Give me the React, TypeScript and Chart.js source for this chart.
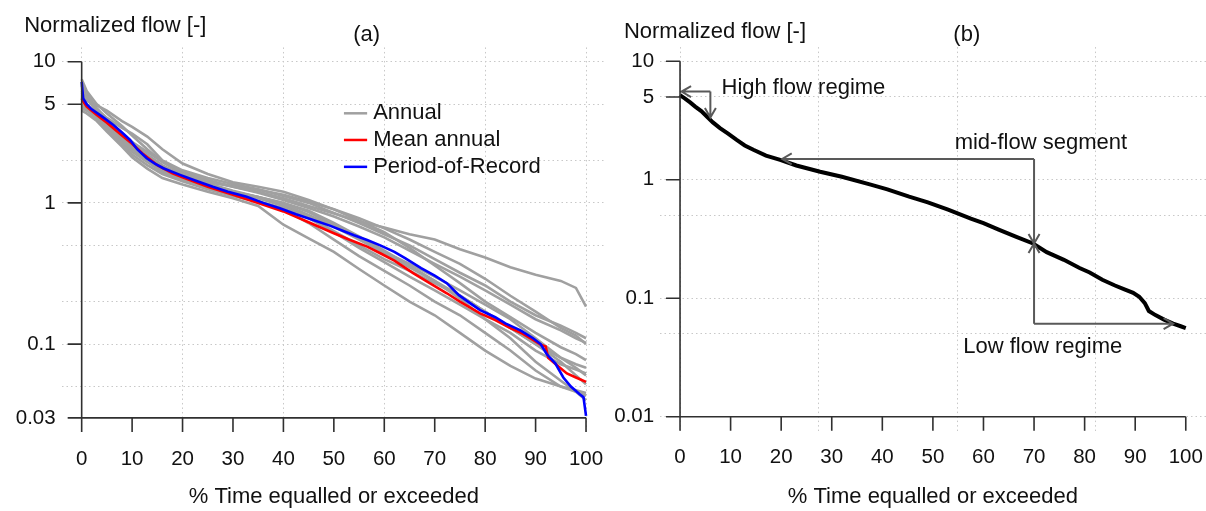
import React, { useEffect, useRef } from "react";
import { Chart, registerables } from "chart.js";

Chart.register(...registerables);

const FONT = '"Liberation Sans", Arial, Helvetica, sans-serif';

// ---------------- Panel (a) ----------------
const xTickValuesA = [0, 10, 20, 30, 40, 50, 60, 70, 80, 90, 100];
const yTickValuesA = [10, 5, 1, 0.1, 0.03];
const yTickLabelsA = ["10", "5", "1", "0.1", "0.03"];
const xGridA = [0, 20, 40, 60, 80, 100];
const yGridA = [10, 5, 2, 1, 0.5, 0.2, 0.1, 0.05];

const blueX = [0, 0.3, 1, 2, 4, 6.3, 8, 9.6, 11, 12.9, 14.5, 16.2, 19.5, 22.5, 26, 29, 32.7, 36, 39.3, 42.5, 45.9, 49.2, 52, 54, 56.6, 59.2, 62, 64.2, 67.3, 70, 72.4, 74.8, 77, 79, 82, 84, 87, 89.5, 91, 92.2, 93.9, 95.5, 97, 98.8, 99.5, 100];
const blueY = [7.2, 5.5, 5.0, 4.6, 4.1, 3.56, 3.15, 2.79, 2.4, 2.07, 1.9, 1.76, 1.58, 1.44, 1.3, 1.2, 1.106, 1.0, 0.915, 0.83, 0.757, 0.69, 0.63, 0.59, 0.546, 0.5, 0.45, 0.405, 0.345, 0.305, 0.27, 0.222, 0.195, 0.174, 0.155, 0.14, 0.125, 0.11, 0.1, 0.085, 0.073, 0.058, 0.05, 0.044, 0.042, 0.031];

const redX = [0, 0.5, 1, 3, 5, 8, 10, 12, 15, 18, 20, 25, 30, 35, 40, 45, 50, 53, 56.6, 59.2, 62, 65.8, 69, 72.4, 75, 79, 82, 85, 87.5, 89.5, 91, 92, 92.5, 94, 96.2, 98, 100];
const redY = [5.5, 5.1, 4.8, 4.2, 3.7, 3.0, 2.62, 2.25, 1.85, 1.62, 1.52, 1.3, 1.14, 1.0, 0.87, 0.73, 0.61, 0.55, 0.49, 0.44, 0.39, 0.317, 0.27, 0.229, 0.2, 0.165, 0.148, 0.13, 0.118, 0.107, 0.099, 0.096, 0.08, 0.072, 0.062, 0.058, 0.054];

const grayX = [0, 1, 3, 5, 8, 10, 13, 16, 20, 25, 30, 35, 40, 45, 50, 55, 60, 65, 70, 75, 80, 85, 90, 95, 98, 100];
const annual1 = [4.7, 4.5, 4.1, 3.6, 2.9, 2.5, 2.1, 1.8, 1.6, 1.42, 1.3, 1.2, 1.08, 0.95, 0.84, 0.74, 0.67, 0.6, 0.55, 0.47, 0.41, 0.35, 0.31, 0.28, 0.25, 0.184];
const annual2 = [6.0, 5.4, 4.6, 4.0, 3.4, 3.1, 2.6, 2.0, 1.7, 1.5, 1.36, 1.25, 1.12, 1.0, 0.85, 0.72, 0.6, 0.5, 0.4, 0.32, 0.26, 0.2, 0.16, 0.135, 0.12, 0.11];
const annual3 = [7.5, 6.2, 5.0, 4.3, 3.5, 3.0, 2.4, 1.95, 1.65, 1.45, 1.3, 1.18, 1.05, 0.92, 0.8, 0.68, 0.57, 0.46, 0.37, 0.3, 0.24, 0.19, 0.15, 0.125, 0.11, 0.102];
const annual4 = [5.8, 5.3, 4.9, 4.5, 3.8, 3.45, 2.95, 2.4, 1.9, 1.6, 1.4, 1.3, 1.2, 1.05, 0.9, 0.75, 0.62, 0.48, 0.36, 0.27, 0.2, 0.155, 0.12, 0.095, 0.085, 0.077];
const annual5 = [6.5, 5.6, 4.5, 3.7, 2.9, 2.5, 2.1, 1.8, 1.55, 1.35, 1.2, 1.1, 0.98, 0.82, 0.68, 0.55, 0.44, 0.35, 0.28, 0.22, 0.17, 0.13, 0.1, 0.08, 0.072, 0.068];
const annual6 = [5.0, 4.6, 3.9, 3.3, 2.6, 2.2, 1.85, 1.6, 1.42, 1.25, 1.12, 1.02, 0.92, 0.78, 0.62, 0.48, 0.38, 0.3, 0.24, 0.19, 0.15, 0.12, 0.09, 0.072, 0.066, 0.062];
const annual7 = [4.5, 4.3, 3.8, 3.2, 2.5, 2.1, 1.75, 1.5, 1.35, 1.2, 1.08, 0.95, 0.7, 0.56, 0.45, 0.34, 0.26, 0.2, 0.16, 0.12, 0.09, 0.07, 0.057, 0.05, 0.047, 0.045];
const annual8 = [6.8, 5.9, 4.7, 3.9, 3.0, 2.6, 2.15, 1.75, 1.45, 1.28, 1.15, 1.03, 0.9, 0.72, 0.55, 0.42, 0.33, 0.26, 0.2, 0.16, 0.12, 0.09, 0.065, 0.05, 0.046, 0.043];
const annual9 = [5.3, 4.9, 4.3, 3.7, 3.0, 2.7, 2.3, 1.95, 1.6, 1.38, 1.22, 1.1, 1.0, 0.88, 0.72, 0.58, 0.46, 0.36, 0.28, 0.21, 0.15, 0.11, 0.075, 0.055, 0.046, 0.04];
const annual10 = [6.2, 5.5, 4.4, 3.5, 2.7, 2.3, 1.95, 1.65, 1.45, 1.3, 1.18, 1.08, 0.95, 0.8, 0.63, 0.5, 0.4, 0.33, 0.27, 0.22, 0.17, 0.13, 0.1, 0.075, 0.06, 0.052];
const annual11 = [4.9, 4.6, 4.2, 3.8, 3.1, 2.7, 2.2, 1.85, 1.55, 1.4, 1.32, 1.24, 1.14, 1.02, 0.9, 0.78, 0.66, 0.55, 0.45, 0.37, 0.29, 0.22, 0.17, 0.13, 0.115, 0.1];
const annual12 = [5.6, 5.0, 4.0, 3.4, 2.8, 2.4, 2.0, 1.7, 1.5, 1.33, 1.2, 1.1, 1.0, 0.86, 0.7, 0.56, 0.45, 0.37, 0.3, 0.24, 0.19, 0.15, 0.11, 0.08, 0.068, 0.06];
const annualSeries = [annual1, annual2, annual3, annual4, annual5, annual6, annual7, annual8, annual9, annual10, annual11, annual12];

const legendLabelsA = ["Annual", "Mean annual", "Period-of-Record"];
const legendColorsA = ["#a0a0a0", "#ff0000", "#0000ff"];

// ---------------- Panel (b) ----------------
const xTickValuesB = [0, 10, 20, 30, 40, 50, 60, 70, 80, 90, 100];
const yTickValuesB = [10, 5, 1, 0.1, 0.01];
const yTickLabelsB = ["10", "5", "1", "0.1", "0.01"];
const xGridB = [0, 27.4, 54.8, 82.2];
const yGridB = [10, 5, 1, 0.5, 0.1, 0.05, 0.01];

const porX = [0, 0.5, 1, 2, 3, 4.2, 5.3, 6.5, 7.9, 9.5, 11.2, 12.8, 14.5, 17, 19.8, 23, 27.7, 32, 37.7, 41, 45.3, 49, 53, 57.5, 60, 63, 66.5, 69.8, 72.5, 75.9, 79, 81, 83.5, 86, 88, 89.6, 90.8, 91.9, 92.7, 94, 95.7, 97.5, 99, 100];
const porY = [5.2, 5.0, 4.85, 4.5, 4.15, 3.8, 3.42, 3.05, 2.73, 2.45, 2.17, 1.95, 1.79, 1.6, 1.47, 1.32, 1.17, 1.06, 0.91, 0.83, 0.72, 0.645, 0.56, 0.47, 0.43, 0.38, 0.33, 0.29, 0.245, 0.211, 0.18, 0.165, 0.143, 0.128, 0.118, 0.111, 0.103, 0.091, 0.078, 0.072, 0.066, 0.061, 0.058, 0.056];

const arrowsB = [
  [6, 5.55, 0.3, 5.55],
  [6, 5.55, 6, 3.35],
  [70, 1.5, 20.2, 1.5],
  [70, 1.5, 70, 0.29],
  [70, 0.061, 70, 0.29],
  [70, 0.061, 97.5, 0.061],
];
const notesB = [
  { text: "High flow regime", x: 8.2, y: 5.94 },
  { text: "mid-flow segment", x: 54.3, y: 2.04 },
  { text: "Low flow regime", x: 56, y: 0.039 },
];

type PanelCfg = {
  xTicks: number[];
  yTicks: number[];
  yLabels: string[];
  xAxisMin: number;
  xAxisMax: number;
  yAxisMin: number;
  yAxisMax: number;
  title: string;
  titleX: number;
  titleY: number;
  panel: string;
  panelX: number;
  legend?: boolean;
  arrows?: number[][];
  notes?: { text: string; x: number; y: number }[];
};

const TEXT_FONT = `22px ${FONT}`;
const TICK_FONT = `20.5px ${FONT}`;

function makePlugin(cfg: PanelCfg) {
  return {
    id: "rAxes",
    afterDatasetsDraw(chart: any) {
      const ctx = chart.ctx;
      const xs = chart.scales.x;
      const ys = chart.scales.y;
      if (cfg.arrows) {
        ctx.save();
        ctx.strokeStyle = "#595959";
        ctx.lineWidth = 2;
        ctx.lineCap = "butt";
        for (const a of cfg.arrows) {
          const x0 = xs.getPixelForValue(a[0]);
          const y0 = ys.getPixelForValue(a[1]);
          const x1 = xs.getPixelForValue(a[2]);
          const y1 = ys.getPixelForValue(a[3]);
          ctx.beginPath();
          ctx.moveTo(x0, y0);
          ctx.lineTo(x1, y1);
          const ang = Math.atan2(y1 - y0, x1 - x0);
          const L = 11;
          const spread = Math.PI / 6;
          ctx.moveTo(x1 - L * Math.cos(ang - spread), y1 - L * Math.sin(ang - spread));
          ctx.lineTo(x1, y1);
          ctx.lineTo(x1 - L * Math.cos(ang + spread), y1 - L * Math.sin(ang + spread));
          ctx.stroke();
        }
        ctx.restore();
      }
      if (cfg.notes) {
        ctx.save();
        ctx.fillStyle = "#111";
        ctx.font = TEXT_FONT;
        ctx.textAlign = "left";
        ctx.textBaseline = "middle";
        for (const n of cfg.notes) {
          ctx.fillText(n.text, xs.getPixelForValue(n.x), ys.getPixelForValue(n.y));
        }
        ctx.restore();
      }
    },
    afterDraw(chart: any) {
      const ctx = chart.ctx;
      const xs = chart.scales.x;
      const ys = chart.scales.y;
      const area = chart.chartArea;
      const ax = xs.getPixelForValue(cfg.xAxisMin);
      const axR = xs.getPixelForValue(cfg.xAxisMax);
      const ay = ys.getPixelForValue(cfg.yAxisMin);
      const ayT = ys.getPixelForValue(cfg.yAxisMax);
      ctx.save();
      ctx.strokeStyle = "#303030";
      ctx.lineWidth = 1.6;
      ctx.beginPath();
      ctx.moveTo(ax, ayT);
      ctx.lineTo(ax, ay);
      ctx.moveTo(ax, ay);
      ctx.lineTo(axR, ay);
      for (const v of cfg.xTicks) {
        const px = xs.getPixelForValue(v);
        ctx.moveTo(px, ay);
        ctx.lineTo(px, ay + 14);
      }
      for (const v of cfg.yTicks) {
        const py = ys.getPixelForValue(v);
        ctx.moveTo(ax, py);
        ctx.lineTo(ax - 14, py);
      }
      ctx.stroke();

      ctx.fillStyle = "#111";
      ctx.font = TICK_FONT;
      ctx.textAlign = "center";
      ctx.textBaseline = "middle";
      for (const v of cfg.xTicks) {
        ctx.fillText(String(v), xs.getPixelForValue(v), ay + 41);
      }
      ctx.textAlign = "right";
      cfg.yTicks.forEach((v, i) => {
        ctx.fillText(cfg.yLabels[i], ax - 26, ys.getPixelForValue(v));
      });

      ctx.font = TEXT_FONT;
      ctx.textAlign = "center";
      ctx.fillText("% Time equalled or exceeded", (area.left + area.right) / 2, 497);
      ctx.textAlign = "left";
      ctx.fillText(cfg.title, xs.getPixelForValue(cfg.titleX), cfg.titleY);
      ctx.textAlign = "center";
      ctx.fillText(cfg.panel, xs.getPixelForValue(cfg.panelX), 35);

      if (cfg.legend) {
        const lx0 = xs.getPixelForValue(52);
        const lx1 = xs.getPixelForValue(56.6);
        const tx = xs.getPixelForValue(57.8);
        const legendY = [4.31, 2.79, 1.8];
        ctx.textAlign = "left";
        legendLabelsA.forEach((lab, i) => {
          const py = ys.getPixelForValue(legendY[i]);
          ctx.strokeStyle = legendColorsA[i];
          ctx.lineWidth = 2.5;
          ctx.beginPath();
          ctx.moveTo(lx0, py);
          ctx.lineTo(lx1, py);
          ctx.stroke();
          ctx.fillStyle = "#111";
          ctx.fillText(lab, tx, py);
        });
      }
      ctx.restore();
    },
  };
}

function zip(xs: number[], ys: number[]) {
  return xs.map((x, i) => ({ x, y: ys[i] }));
}

function scalesFor(xGrid: number[], yGrid: number[], xmin: number, xmax: number, ymin: number, ymax: number) {
  const lg = (a: number) => Math.log10(a);
  const ext = 0.04;
  const xr = xmax - xmin;
  const yr = lg(ymax) - lg(ymin);
  const gridCommon = { color: "#c8c8c8", lineWidth: 1, drawTicks: false };
  return {
    x: {
      type: "linear",
      min: xmin - ext * xr,
      max: xmax + ext * xr,
      afterBuildTicks: (s: any) => {
        s.ticks = xGrid.map((v) => ({ value: v }));
      },
      ticks: { display: false },
      grid: gridCommon,
      border: { display: false, dash: [1.5, 3] },
    },
    y: {
      type: "logarithmic",
      min: Math.pow(10, lg(ymin) - ext * yr),
      max: Math.pow(10, lg(ymax) + ext * yr),
      afterBuildTicks: (s: any) => {
        s.ticks = yGrid.map((v) => ({ value: v }));
      },
      ticks: { display: false },
      grid: gridCommon,
      border: { display: false, dash: [1.5, 3] },
    },
  };
}

const SPLIT = 608;

export default function App() {
  const refA = useRef<HTMLCanvasElement>(null);
  const refB = useRef<HTMLCanvasElement>(null);

  useEffect(() => {
    const cfgA: PanelCfg = {
      xTicks: xTickValuesA,
      yTicks: yTickValuesA,
      yLabels: yTickLabelsA,
      xAxisMin: 0,
      xAxisMax: 100,
      yAxisMin: 0.03,
      yAxisMax: 10,
      title: "Normalized flow [-]",
      titleX: -11.4,
      titleY: 26,
      panel: "(a)",
      panelX: 56.5,
      legend: true,
    };
    const cfgB: PanelCfg = {
      xTicks: xTickValuesB,
      yTicks: yTickValuesB,
      yLabels: yTickLabelsB,
      xAxisMin: 0,
      xAxisMax: 100,
      yAxisMin: 0.01,
      yAxisMax: 10,
      title: "Normalized flow [-]",
      titleX: -11.1,
      titleY: 32,
      panel: "(b)",
      panelX: 56.7,
      arrows: arrowsB,
      notes: notesB,
    };

    const common = {
      animation: false,
      responsive: false,
      devicePixelRatio: 1,
      events: [],
      elements: { point: { radius: 0 }, line: { tension: 0, fill: false } },
      plugins: { legend: { display: false }, tooltip: { enabled: false } },
    };

    const chartA = new Chart(refA.current as HTMLCanvasElement, {
      type: "line",
      data: {
        datasets: [
          { label: "Period-of-Record", data: zip(blueX, blueY), borderColor: "#0000ff", borderWidth: 2.6, order: 0 },
          { label: "Mean annual", data: zip(redX, redY), borderColor: "#ff0000", borderWidth: 2.6, order: 1 },
          ...annualSeries.map((s) => ({
            label: "Annual",
            data: zip(grayX, s),
            borderColor: "#a0a0a0",
            borderWidth: 2.6,
            order: 2,
          })),
        ],
      },
      options: {
        ...common,
        layout: { padding: { left: 61.5, right: SPLIT - 606.2, top: 47.45, bottom: 511 - 432.15 } },
        scales: scalesFor(xGridA, yGridA, 0, 100, 0.03, 10),
      } as any,
      plugins: [makePlugin(cfgA)],
    } as any);

    const chartB = new Chart(refB.current as HTMLCanvasElement, {
      type: "line",
      data: {
        datasets: [
          { label: "Period-of-Record", data: zip(porX, porY), borderColor: "#000000", borderWidth: 4, order: 0 },
        ],
      },
      options: {
        ...common,
        layout: { padding: { left: 659.8 - SPLIT, right: 0, top: 47.1, bottom: 511 - 430.9 } },
        scales: scalesFor(xGridB, yGridB, 0, 100, 0.01, 10),
      } as any,
      plugins: [makePlugin(cfgB)],
    } as any);

    return () => {
      chartA.destroy();
      chartB.destroy();
    };
  }, []);

  return (
    <div style={{ position: "fixed", left: 0, top: 0, width: 1206, height: 511, background: "#ffffff", overflow: "hidden" }}>
      <canvas ref={refA} width={SPLIT} height={511} style={{ position: "absolute", left: 0, top: 0, width: SPLIT, height: 511 }} />
      <canvas ref={refB} width={1206 - SPLIT} height={511} style={{ position: "absolute", left: SPLIT, top: 0, width: 1206 - SPLIT, height: 511 }} />
    </div>
  );
}
